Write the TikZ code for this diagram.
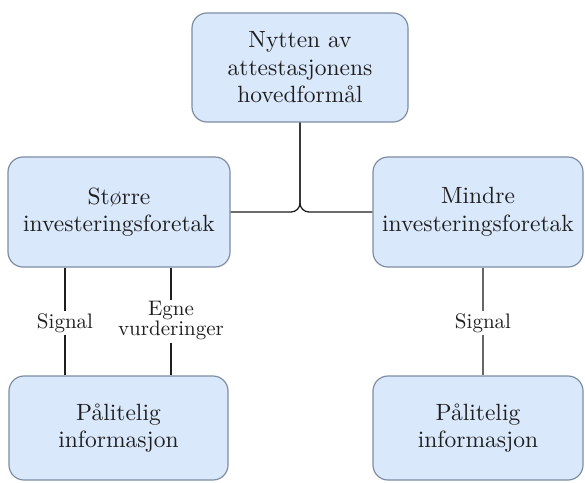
\documentclass[tikz,border=0pt]{standalone}
\usepackage{fontspec}
\setmainfont{lmroman10}[Extension=.otf, UprightFont=*-regular, BoldFont=*-bold]
\definecolor{boxfill}{HTML}{DAE8FC}
\definecolor{boxline}{HTML}{7D8DA3}
\definecolor{inkdark}{HTML}{1E1E1E}
\definecolor{wiregrey}{HTML}{666666}
\begin{document}
\begin{tikzpicture}[x=1pt,y=1pt,
  box/.style={draw=boxline, line width=1.2pt, fill=boxfill, rounded corners=15pt,
    align=center, text=inkdark, inner sep=0pt,
    font=\fontsize{23.5}{27.5}\selectfont},
  lbl/.style={fill=white, align=center, text=inkdark, inner sep=2pt,
    font=\fontsize{21}{20}\selectfont},
  wire/.style={draw=inkdark, line width=1.3pt},
  greywire/.style={draw=wiregrey, line width=1.6pt}]
\useasboundingbox (0,0) rectangle (585,-482);

% boxes
\node[box, minimum width=216, minimum height=109] (top) at (300,-67.5)
  {Nytten av\\attestasjonens\\hovedformål};
\node[box, minimum width=222, minimum height=110] (large) at (119,-212)
  {Større\\investeringsforetak};
\node[box, minimum width=210, minimum height=110] (small) at (478,-212)
  {Mindre\\investeringsforetak};
\node[box, minimum width=219, minimum height=104] (infoL) at (118.5,-428)
  {Pålitelig\\informasjon};
\node[box, minimum width=210, minimum height=104] (infoR) at (478,-428)
  {Pålitelig\\informasjon};

% branching from the top box
\draw[wire, rounded corners=9pt] (top.south) |- (large.east);
\draw[wire, rounded corners=9pt] (top.south) |- (small.west);

% labels on the lower links
\node[lbl] (sigL) at (65,-323) {Signal};
\node[lbl] (own) at (171,-321) {Egne\\vurderinger};
\node[lbl] (sigR) at (483,-323) {Signal};

% lower links
\draw[wire] (large.south -| sigL) -- (sigL.north);
\draw[wire] (sigL.south) -- (infoL.north -| sigL);
\draw[wire] (large.south -| own) -- (own.north);
\draw[wire] (own.south) -- (infoL.north -| own);
\draw[greywire] (small.south -| sigR) -- (sigR.north);
\draw[greywire] (sigR.south) -- (infoR.north -| sigR);
\end{tikzpicture}
\end{document}
